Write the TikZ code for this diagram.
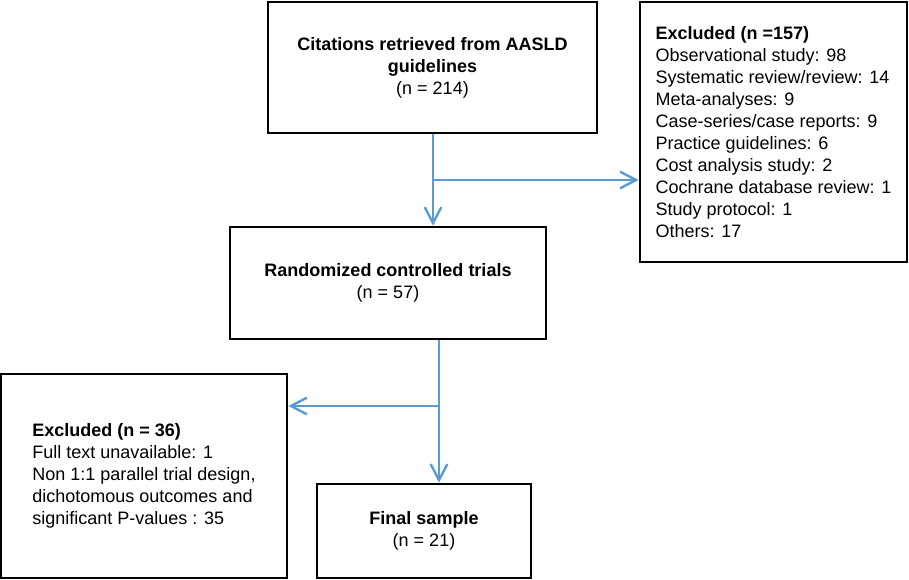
\documentclass[tikz,border=0pt]{standalone}
\usepackage{fontspec}
\setmainfont{Liberation Sans}
\usetikzlibrary{arrows.meta}

\definecolor{flowblue}{RGB}{91,155,213}

\tikzset{
  box/.style={draw=black, line width=2pt, inner sep=0pt, font=\fontsize{13.5}{16.5}\selectfont},
  flow/.style={draw=flowblue, line width=1.8pt, -{Straight Barb[length=12pt,width=12.5pt,line width=1.8pt]}},
  plain/.style={draw=flowblue, line width=1.8pt}
}

\begin{document}
\begin{tikzpicture}[x=0.75pt,y=0.75pt,yscale=-1,xscale=1]
\useasboundingbox (0,0) rectangle (909,579);

%Shape: Rectangle (citations)
\node [box, minimum width=246.75pt, minimum height=98.25pt, align=center] (cit) at (432.5,67.5)
  {\textbf{Citations retrieved from AASLD}\\ \textbf{guidelines}\\ (n = 214)};
%Shape: Rectangle (excluded first)
\node [box, minimum width=200.25pt, minimum height=195pt, align=left] (exca) at (773.5,132)
  {\textbf{Excluded (n =157)}\\ Observational study: 98\\ Systematic review/review: 14\\ Meta-analyses: 9\\ Case-series/case reports: 9\\ Practice guidelines: 6\\ Cost analysis study: 2\\ Cochrane database review: 1\\ Study protocol: 1\\ Others: 17};
%Shape: Rectangle (rct)
\node [box, minimum width=237pt, minimum height=84pt, align=center] (rct) at (388,283)
  {\textbf{Randomized controlled trials}\\ (n = 57)};
%Shape: Rectangle (excluded second)
\node [box, minimum width=214.5pt, minimum height=153pt, align=left] (excb) at (144,476)
  {\textbf{Excluded (n = 36)}\\ Full text unavailable: 1\\ Non 1:1 parallel trial design,\\ dichotomous outcomes and\\ significant P-values : 35};
%Shape: Rectangle (final)
\node [box, minimum width=160.5pt, minimum height=70.5pt, align=center] (fin) at (424,531)
  {\textbf{Final sample}\\ (n = 21)};

\coordinate (ja) at (433,180);
\coordinate (jb) at (439,406);

%Straight Lines
\draw [flow] (ja |- cit.south) -- (ja |- rct.north);
\draw [flow] (ja) -- (ja -| exca.west);
\draw [flow] (jb |- rct.south) -- (jb |- fin.north);
\draw [flow] (jb) -- (jb -| excb.east);

\end{tikzpicture}
\end{document}
